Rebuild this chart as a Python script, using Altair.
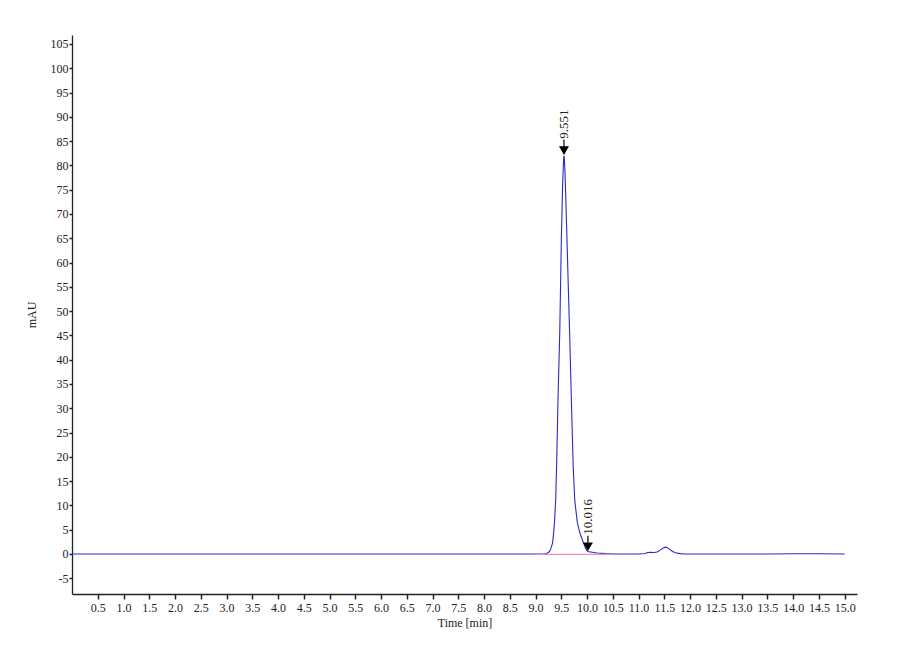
import altair as alt
import pandas as pd

# chromatogram trace (time in min, signal in mAU)
times = [0.0, 1.0, 2.0, 3.0, 4.0, 5.0, 6.0, 7.0, 8.0, 8.6, 9.0, 9.15, 9.22, 9.27,
         9.30, 9.33, 9.35, 9.37, 9.39, 9.41, 9.435, 9.47, 9.50, 9.525, 9.545, 9.555,
         9.57, 9.59, 9.61, 9.635, 9.66, 9.695, 9.73, 9.76, 9.81, 9.86, 9.93, 9.97,
         10.01, 10.1, 10.2, 10.35, 10.5, 10.8, 11.0, 11.12, 11.18,
         11.24, 11.30, 11.36, 11.42, 11.47, 11.52, 11.56, 11.61, 11.66, 11.72, 11.80,
         11.90, 12.2, 12.6, 13.0, 13.5, 14.0, 14.5, 15.0]
signal = [0.0, 0.0, 0.0, 0.0, 0.0, 0.0, 0.0, 0.0, 0.0, 0.0, 0.0, 0.0, 0.1, 0.5,
          1.2, 2.3, 4.3, 7.0, 11.1, 19.0, 31.7, 46.0, 64.6, 76.0, 81.5, 82.0,
          79.0, 72.0, 64.6, 55.0, 46.0, 31.7, 18.0, 11.1, 6.5, 4.3, 2.3, 1.2,
          0.5, 0.35, 0.2, 0.08, 0.0, 0.0, 0.0, 0.1, 0.3,
          0.35, 0.3, 0.4, 0.8, 1.2, 1.4, 1.3, 0.9, 0.5, 0.25, 0.08,
          0.0, 0.0, 0.0, 0.0, 0.0, 0.05, 0.05, 0.0]

# integration baseline (pink)
base_t = [8.98, 10.47]
base_v = [-0.1, -0.1]

# peak annotations
peak_t = [9.551, 10.016]
peak_v = [82.0, 0.45]
peak_lbl = ["9.551", "10.016"]

x_ticks = [0.5 * i for i in range(1, 31)]
y_ticks = [-5 + 5 * i for i in range(23)]

trace = pd.DataFrame({"t": times, "v": signal})
base = pd.DataFrame({"t": base_t, "v": base_v})
peaks = pd.DataFrame({"t": peak_t, "v": peak_v, "lbl": peak_lbl})

FONT = "Liberation Serif"

xs = alt.Scale(domain=[0, 15.24], nice=False, zero=False)
ys = alt.Scale(domain=[-8.24, 106.85], nice=False, zero=False)

xaxis = alt.Axis(values=x_ticks, tickCount=200, labelExpr="format(datum.value, '.1f')",
                 title="Time [min]",
                 grid=False, domain=True, domainColor="#222", domainWidth=1.3,
                 tickColor="#222", tickSize=5, tickWidth=1.5,
                 labelFont=FONT, labelFontSize=12, labelColor="#222", labelPadding=3,
                 labelOverlap=False,
                 titleFont=FONT, titleFontSize=12, titleFontWeight="normal",
                 titleColor="#222", titlePadding=4, labelFlush=False)
yaxis = alt.Axis(values=y_ticks, tickCount=200, labelExpr="'' + datum.value", title="mAU",
                 grid=False,
                 domain=True, domainColor="#222", domainWidth=1.3,
                 tickColor="#222", tickSize=3, tickWidth=1.5,
                 labelFont=FONT, labelFontSize=12, labelColor="#222", labelPadding=1,
                 labelOverlap=False,
                 titleFont=FONT, titleFontSize=12, titleFontWeight="normal",
                 titleColor="#222", titlePadding=12, labelFlush=False)

line = alt.Chart(trace).mark_line(color="#2b2bc4", strokeWidth=1.1).encode(
    x=alt.X("t:Q", scale=xs, axis=xaxis),
    y=alt.Y("v:Q", scale=ys, axis=yaxis),
    order="t:Q",
)

bl = alt.Chart(base).mark_line(color="#e58fbf", strokeWidth=1.2).encode(
    x=alt.X("t:Q", scale=xs), y=alt.Y("v:Q", scale=ys)
)

arrows = alt.Chart(peaks).mark_point(shape="triangle-down", filled=True, color="black",
                                     size=100, opacity=1, yOffset=-5).encode(
    x=alt.X("t:Q", scale=xs), y=alt.Y("v:Q", scale=ys)
)

stems = alt.Chart(peaks).mark_rule(color="black", strokeWidth=1.2, yOffset=-16, y2Offset=-9).encode(
    x=alt.X("t:Q", scale=xs), y=alt.Y("v:Q", scale=ys), y2=alt.Y2("v:Q")
)

labels = alt.Chart(peaks).mark_text(angle=270, align="left", baseline="middle",
                                    font=FONT, fontSize=13, color="#222",
                                    yOffset=-17).encode(
    x=alt.X("t:Q", scale=xs), y=alt.Y("v:Q", scale=ys), text="lbl:N"
)

chart = alt.layer(line, bl, stems, arrows, labels).properties(
    width=785, height=559,
    autosize=alt.AutoSizeParams(type="none"),
    padding={"left": 64, "top": 27, "right": 30, "bottom": 56},
    background="white",
).configure_view(stroke=None)

chart.save("out.html", embed_options={"renderer": "svg", "actions": False})
